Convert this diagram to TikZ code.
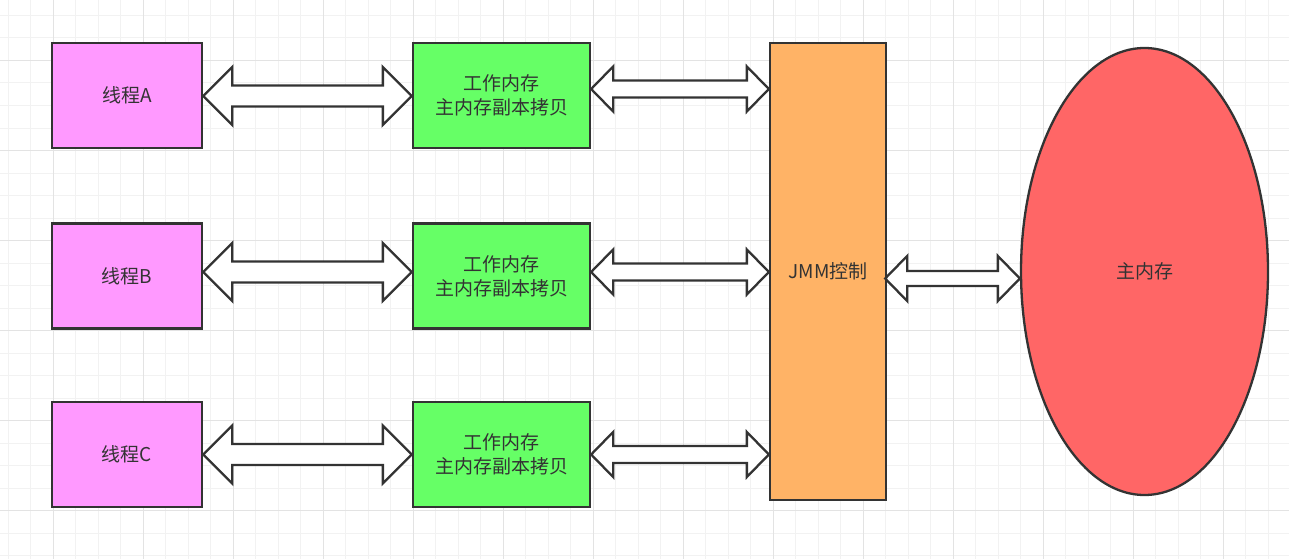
\documentclass[tikz,border=0pt]{standalone}
\usepackage{fontspec}
\setmainfont{Noto Sans CJK SC}
\usepackage{tikz}
\usetikzlibrary{shapes.geometric,calc}
\definecolor{linegray}{HTML}{333333}
\definecolor{gridminor}{HTML}{F2F2F2}
\definecolor{gridmajor}{HTML}{E3E3E3}
\definecolor{threadpink}{HTML}{FF99FF}
\definecolor{workgreen}{HTML}{66FF66}
\definecolor{jmmorange}{HTML}{FFB366}
\definecolor{mainred}{HTML}{FF6666}
\tikzset{
  box/.style={draw=linegray,line width=2.3pt,inner sep=0pt,text=linegray,
    font=\fontsize{19}{24}\selectfont,align=center},
  threadbox/.style={box,fill=threadpink,minimum width=150pt,minimum height=105pt},
  workbox/.style={box,fill=workgreen,minimum width=177pt,minimum height=105pt},
  bigarrow/.style={draw=linegray,fill=white,line width=2.3pt}
}
% double block arrow: start, end, shaft half width, head half width, head length
\newcommand{\flexarrow}[5]{%
  \draw[bigarrow] let \p1=(#1), \p2=(#2) in
    (\x1,\y1) -- (\x1+#5,\y1+#4) -- (\x1+#5,\y1+#3) -- (\x2-#5,\y1+#3) -- (\x2-#5,\y1+#4)
    -- (\x2,\y1) -- (\x2-#5,\y1-#4) -- (\x2-#5,\y1-#3) -- (\x1+#5,\y1-#3) -- (\x1+#5,\y1-#4) -- cycle;}

\begin{document}
\begin{tikzpicture}[x=1pt,y=-1pt]
  \useasboundingbox[fill=white] (0,0) rectangle (1289,559);
  \foreach \gx in {0,...,56} \draw[gridminor,line width=1pt] ({8.3+22.5*\gx},0) -- ++(0,559);
  \foreach \gy in {0,...,24} \draw[gridminor,line width=1pt] (0,{15.5+22.5*\gy}) -- ++(1289,0);
  \foreach \gx in {0,...,13} \draw[gridmajor,line width=1pt] ({53.3+90*\gx},0) -- ++(0,559);
  \foreach \gy in {0,...,5} \draw[gridmajor,line width=1pt] (0,{60.5+90*\gy}) -- ++(1289,0);

  \node[box,fill=jmmorange,minimum width=116pt,minimum height=457pt] (jmm) at (828,271.5) {JMM控制};
  \node[box,fill=mainred,ellipse,minimum width=247pt,minimum height=447pt] (mem) at (1144.5,271.5) {主内存};

  \foreach \r/\yy/\da/\db in {A/95.5/-0.5pt/6.5pt,B/276/4pt/4pt,C/454.5/0pt/0pt}{
    \node[threadbox] (t\r) at (127,\yy) {线程\r};
    \node[workbox] (w\r) at (501.5,\yy) {工作内存\\主内存副本拷贝};
    \flexarrow{[yshift=\da]t\r.east}{w\r.west}{10.5}{29}{29}
    \flexarrow{[yshift=\db]w\r.east}{jmm.west}{8.5}{22.5}{22}
  }
  \flexarrow{[yshift=-7pt,xshift=-2pt]jmm.east}{mem.west}{7.5}{22.5}{22}
\end{tikzpicture}
\end{document}
